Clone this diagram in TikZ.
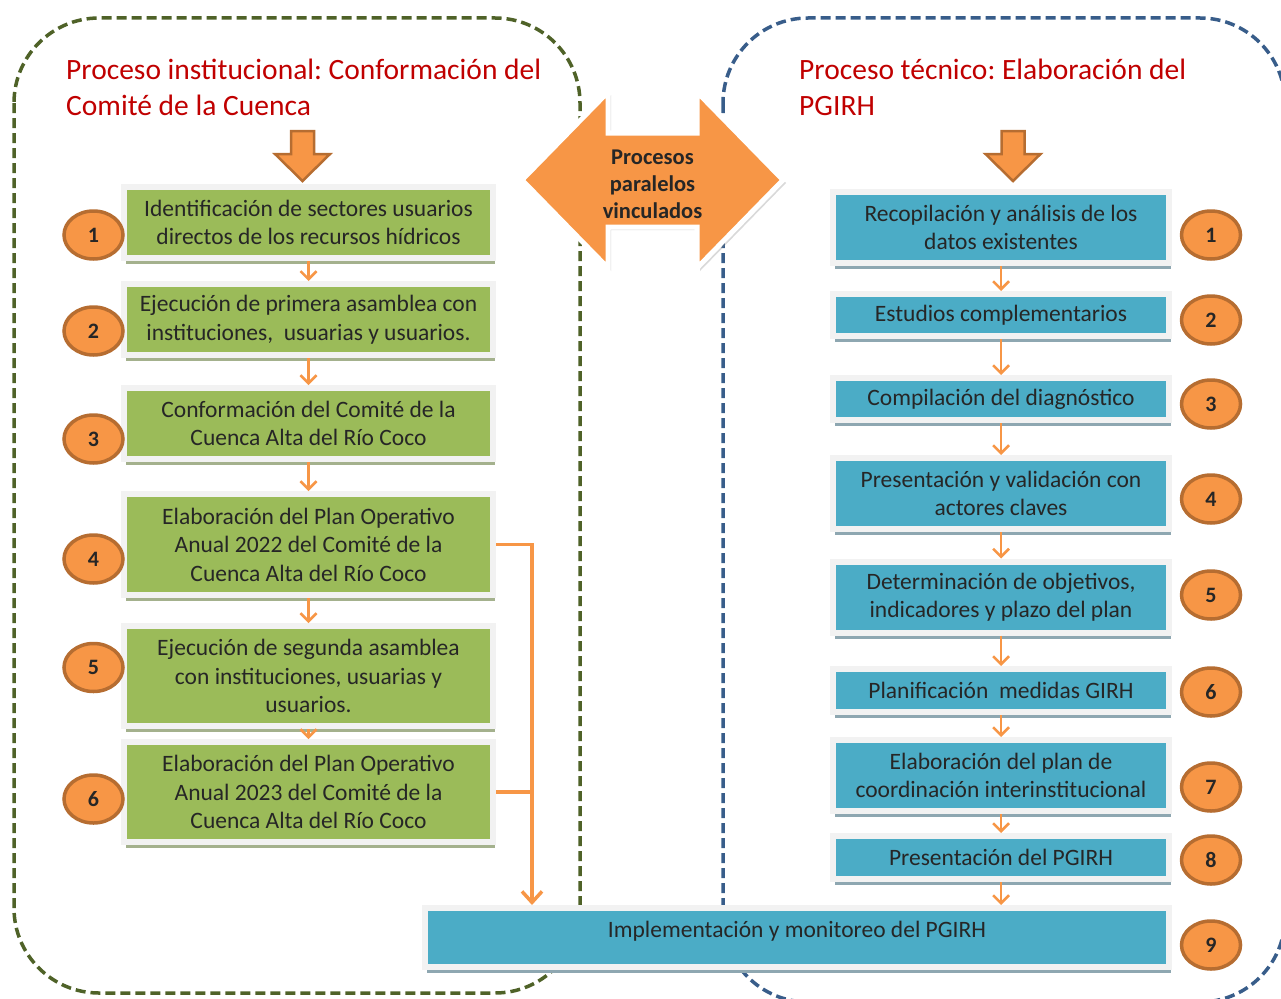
\documentclass[tikz,border=0pt]{standalone}
\usepackage{fontspec}
\setmainfont{Carlito}
\frenchspacing
\usetikzlibrary{shapes.geometric, arrows.meta, shadows}
\definecolor{stepgreen}{HTML}{9BBB59}
\definecolor{stepblue}{HTML}{4BACC6}
\definecolor{accentorange}{HTML}{F79646}
\definecolor{borderbrown}{HTML}{B66D31}
\definecolor{titlered}{HTML}{C00000}
\definecolor{laneolive}{HTML}{4F6228}
\definecolor{lanenavy}{HTML}{385D8A}
\definecolor{boxframe}{HTML}{F2F2F2}
\definecolor{shadowgreen}{HTML}{A4B18D}
\definecolor{shadowblue}{HTML}{8EA7B1}
\definecolor{textdark}{HTML}{262626}

\begin{document}
\begin{tikzpicture}[x=1pt, y=-1pt,
  lanetitle/.style={anchor=west, align=left, inner sep=0pt, text=titlered, font=\fontsize{29.5}{36}\selectfont},
  stepbox/.style={rectangle, draw=boxframe, line width=6pt, inner sep=0pt, align=center, text=textdark, font=\fontsize{23.5}{28.5}\selectfont},
  greenstep/.style={stepbox, fill=stepgreen, minimum width=369pt, drop shadow={shadow xshift=2pt, shadow yshift=-6pt, fill=shadowgreen, opacity=1}},
  bluestep/.style={stepbox, fill=stepblue, minimum width=336pt, drop shadow={shadow xshift=2pt, shadow yshift=-6pt, fill=shadowblue, opacity=1}},
  stepnum/.style={ellipse, draw=borderbrown, line width=3.5pt, fill=accentorange, minimum width=59pt, minimum height=48pt, inner sep=0pt, text=textdark, font=\fontsize{22}{22}\selectfont\bfseries},
  flow/.style={draw=accentorange, line width=2.5pt, -{Straight Barb[length=8pt, width=16pt]}},
  merge/.style={draw=accentorange, line width=3.5pt, -{Straight Barb[length=11pt, width=20pt]}},
  blockdown/.style={draw=borderbrown, line width=2.5pt, fill=accentorange, line join=miter},
  linkarrow/.style={draw=white, line width=5pt, fill=accentorange, line join=miter, drop shadow={shadow xshift=3pt, shadow yshift=-3pt, opacity=0.3}},
  linktext/.style={align=center, inner sep=0pt, text=textdark, font=\fontsize{22.5}{27}\selectfont\bfseries},
  lane/.style={dash pattern=on 10pt off 5pt, line width=3.5pt, rounded corners=85pt}
]
  \useasboundingbox (0,0) rectangle (1281,998);

  % Lanes
  \draw[lane, draw=laneolive] (14,18) rectangle (580,993);
  \begin{scope}
    \clip (0,0) rectangle (1281,998);
    \draw[lane, draw=lanenavy] (723,18) rectangle (1285,1002);
  \end{scope}

  % Titles
  \node[lanetitle] (ttlinst) at (66,87) {Proceso institucional: Conformación del\\Comité de la Cuenca};
  \node[lanetitle] (ttltec) at (799,87) {Proceso técnico: Elaboración del\\PGIRH};

  % Link between both processes
  \draw[linkarrow] (522,180) -- (608,92) -- (608,133) -- (697,133) -- (697,92)
    -- (783,180) -- (697,268) -- (697,227) -- (608,227) -- (608,268) -- cycle;
  \node[linktext] (link) at (652.5,184) {Procesos\\paralelos\\vinculados};

  % Block arrows under titles
  \draw[blockdown] (291,131) -- (314,131) -- (314,154) -- (330,154) -- (302.5,181)
    -- (275,154) -- (291,154) -- cycle;
  \draw[blockdown] (1001.5,131) -- (1024.5,131) -- (1024.5,154) -- (1040.5,154) -- (1013,181)
    -- (985.5,154) -- (1001.5,154) -- cycle;

  % Institutional steps
  \node[greenstep, minimum height=71pt] (pi1) at (308.5,222.5) {Identificación de sectores usuarios\\directos de los recursos hídricos};
  \node[greenstep, minimum height=71pt] (pi2) at (308.5,319.5) {Ejecución de primera asamblea con\\instituciones,\ \ usuarias y usuarios.};
  \node[greenstep, minimum height=71pt] (pi3) at (308.5,423.5) {Conformación del Comité de la\\Cuenca Alta del Río Coco};
  \node[greenstep, minimum height=101pt] (pi4) at (308.5,544.5) {Elaboración del Plan Operativo\\Anual 2022 del Comité de la\\Cuenca Alta del Río Coco};
  \node[greenstep, minimum height=100pt] (pi5) at (308.5,676) {Ejecución de segunda asamblea\\con instituciones, usuarias y\\usuarios.};
  \node[greenstep, minimum height=100pt] (pi6) at (308.5,792) {Elaboración del Plan Operativo\\Anual 2023 del Comité de la\\Cuenca Alta del Río Coco};

  % Technical steps
  \node[bluestep, minimum height=71pt] (pt1) at (1001,227.5) {Recopilación y análisis de los\\datos existentes};
  \node[bluestep, minimum height=42pt] (pt2) at (1001,315) {Estudios complementarios};
  \node[bluestep, minimum height=42pt] (pt3) at (1001,399) {Compilación del diagnóstico};
  \node[bluestep, minimum height=71pt] (pt4) at (1001,493.5) {Presentación y validación con\\actores claves};
  \node[bluestep, minimum height=71pt] (pt5) at (1001,597) {Determinación de objetivos,\\indicadores y plazo del plan};
  \node[bluestep, minimum height=43pt] (pt6) at (1001,690.5) {Planificación\ \ medidas GIRH};
  \node[bluestep, minimum height=71pt] (pt7) at (1001,775.5) {Elaboración del plan de\\coordinación interinstitucional};
  \node[bluestep, minimum height=43pt] (pt8) at (1001,857.5) {Presentación del PGIRH};
  \node[bluestep, minimum width=744pt, minimum height=59pt, text depth=16pt] (pt9) at (797,937.5) {Implementación y monitoreo del PGIRH};

  % Step numbers
  \node[stepnum] (cl1) at (93.5,235) {1};
  \node[stepnum] (cl2) at (93.5,331) {2};
  \node[stepnum] (cl3) at (93.5,439) {3};
  \node[stepnum] (cl4) at (93.5,559) {4};
  \node[stepnum] (cl5) at (93.5,667.5) {5};
  \node[stepnum] (cl6) at (93.5,799) {6};
  \node[stepnum] (cr1) at (1211,235) {1};
  \node[stepnum] (cr2) at (1211,320) {2};
  \node[stepnum] (cr3) at (1211,404) {3};
  \node[stepnum] (cr4) at (1211,499) {4};
  \node[stepnum] (cr5) at (1211,595) {5};
  \node[stepnum] (cr6) at (1211,692) {6};
  \node[stepnum] (cr7) at (1211,787) {7};
  \node[stepnum] (cr8) at (1211,860) {8};
  \node[stepnum] (cr9) at (1211,945) {9};

  % Arrows
  \draw[flow] (pi1) -- (pi2);
  \draw[flow] (pi2) -- (pi3);
  \draw[flow] (pi3) -- (pi4);
  \draw[flow] (pi4) -- (pi5);
  \draw[flow] (pi5) -- (pi6);
  \draw[flow] (pt1) -- (pt2);
  \draw[flow] (pt2) -- (pt3);
  \draw[flow] (pt3) -- (pt4);
  \draw[flow] (pt4) -- (pt5);
  \draw[flow] (pt5) -- (pt6);
  \draw[flow] (pt6) -- (pt7);
  \draw[flow] (pt7) -- (pt8);
  \draw[flow] (pt8) -- (pt8 |- pt9.north);

  % Plans feed implementation
  \coordinate (join) at (532,544.5);
  \draw[merge] (pi4.east) -- (join) -- (join |- pt9.north);
  \draw[merge, -] (pi6.east) -- (pi6.east -| join);
\end{tikzpicture}
\end{document}
